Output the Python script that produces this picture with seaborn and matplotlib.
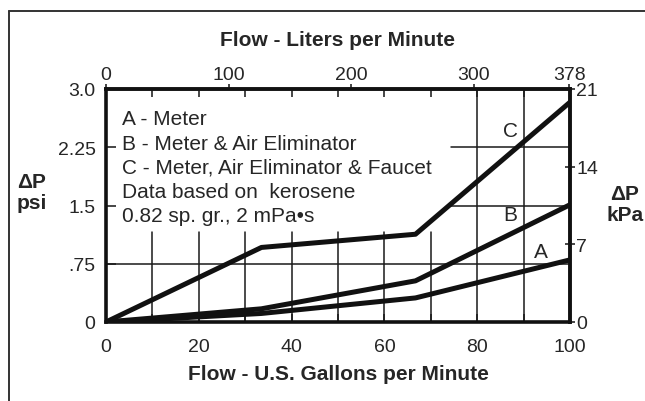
import numpy as np
import pandas as pd
import seaborn as sns
import matplotlib.pyplot as plt
from matplotlib.lines import Line2D
from matplotlib.ticker import MultipleLocator

# Datos (caida de presion vs caudal)
gpm = [0, 33.5, 66.7, 100]
meter_a = [0, 0.11, 0.31, 0.80]          # A - Meter
meter_air_b = [0, 0.17, 0.53, 1.51]      # B - Meter & Air Eliminator
meter_air_faucet_c = [0, 0.96, 1.13, 2.83]  # C - Meter, Air Eliminator & Faucet

psi_ticks = [0, 0.75, 1.5, 2.25, 3.0]
psi_labels = ['0', '.75', '1.5', '2.25', '3.0']
gpm_ticks = [0, 20, 40, 60, 80, 100]
lpm_ticks = [0, 100, 200, 300, 378]
kpa_ticks = [0, 7, 14, 21]

legend_lines = ['A - Meter',
                'B - Meter & Air Eliminator',
                'C - Meter, Air Eliminator & Faucet',
                'Data based on  kerosene',
                '0.82 sp. gr., 2 mPa\u2022s']

LPG = 3.785   # litros por galon
KPA = 7.0     # kPa por psi (escala del grafico)

sns.set_style('white')
plt.rcParams['font.family'] = ['Liberation Sans', 'DejaVu Sans']

fig = plt.figure(figsize=(6.45, 4.02), dpi=100)
ax = fig.add_axes([106 / 645, 79 / 402, 464 / 645, 233 / 402])

# rejilla parcial (la caja de texto tapa la parte superior izquierda)
box_x, box_y = 74.4, 1.16
for g in range(10, 100, 10):
    top = 3.0 if g > box_x else box_y
    ax.plot([g, g], [0, top], color='#1a1a1a', lw=1.1, zorder=1)
ax.plot([0, 100], [0.75, 0.75], color='#1a1a1a', lw=1.1, zorder=1)
for p in [1.5, 2.25]:
    ax.plot([box_x, 100], [p, p], color='#1a1a1a', lw=1.1, zorder=1)

df = pd.DataFrame({'gpm': gpm * 3,
                   'psi': meter_a + meter_air_b + meter_air_faucet_c,
                   'curva': ['A'] * 4 + ['B'] * 4 + ['C'] * 4})
sns.lineplot(data=df, x='gpm', y='psi', units='curva', estimator=None,
             color='#111111', lw=3.6, ax=ax, zorder=3)

ax.set_xlim(0, 100)
ax.set_ylim(0, 3.0)

ax.text(87.1, 2.46, 'C', fontsize=15, ha='center', va='center', zorder=4)
ax.text(87.1, 1.39, 'B', fontsize=15, ha='center', va='center', zorder=4)
ax.text(93.8, 0.91, 'A', fontsize=15, ha='center', va='center', zorder=4)

for i, s in enumerate(legend_lines):
    ax.text(0.035, 0.872 - i * 0.104, s, transform=ax.transAxes,
            fontsize=15, ha='left', va='center', zorder=4)

# ejes inferior / izquierdo
ax.set_xticks(gpm_ticks)
ax.xaxis.set_minor_locator(MultipleLocator(10))
ax.tick_params(axis='x', which='both', top=True, bottom=True, direction='in',
               length=5.8, width=1.2, labelsize=14, pad=11.5)
ax.set_yticks(psi_ticks)
ax.set_yticklabels(psi_labels)
ax.tick_params(axis='y', which='both', left=True, right=False, direction='in',
               length=7, width=1.2, labelsize=14, pad=7.5)
ax.set_xlabel('Flow - U.S. Gallons per Minute', fontsize=15, fontweight='bold',
              labelpad=6.5)
ax.set_ylabel('')
for sp in ax.spines.values():
    sp.set_linewidth(2.6)
    sp.set_color('#111111')

# eje superior en litros por minuto
top = ax.secondary_xaxis('top', functions=(lambda g: g * LPG, lambda l: l / LPG))
top.set_xticks(lpm_ticks)
top.tick_params(direction='out', length=3.6, width=1.2, labelsize=14, pad=0.5)
top.spines['top'].set_linewidth(2.6)
top.set_xlabel('Flow - Liters per Minute', fontsize=15, fontweight='bold',
               labelpad=15.5)

# eje derecho en kPa
right = ax.secondary_yaxis('right', functions=(lambda p: p * KPA, lambda k: k / KPA))
right.set_yticks(kpa_ticks)
right.tick_params(direction='inout', length=7, width=1.2, labelsize=14, pad=1)
right.spines['right'].set_linewidth(2.6)

fig.text(32 / 645, 1 - 193 / 402, '\u0394P\npsi', fontsize=15, fontweight='bold',
         ha='center', va='center', linespacing=1.1)
fig.text(625 / 645, 1 - 205 / 402, '\u0394P\nkPa', fontsize=15, fontweight='bold',
         ha='center', va='center', linespacing=1.1)

# marco exterior
fig.add_artist(Line2D([8.5 / 645, 8.5 / 645], [0, 1 - 11.5 / 402],
                      transform=fig.transFigure, color='#333333', lw=1.4))
fig.add_artist(Line2D([8.5 / 645, 1], [1 - 11.5 / 402, 1 - 11.5 / 402],
                      transform=fig.transFigure, color='#333333', lw=1.4))

fig.savefig('out.png', dpi=100)
